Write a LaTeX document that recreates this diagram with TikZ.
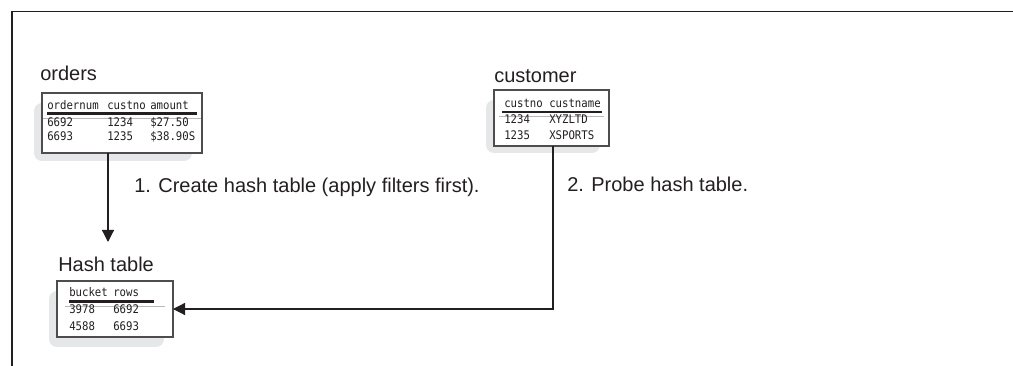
\documentclass[tikz,border=0pt]{standalone}
\usepackage{fontspec}
\setmainfont{Liberation Sans}
\newfontfamily\tabfont[FakeStretch=0.9]{DejaVu Sans Mono}
\usetikzlibrary{arrows.meta,calc}

\definecolor{ink}{HTML}{231F20}
\definecolor{shade}{HTML}{E6E7E8}
\definecolor{rulegray}{HTML}{B8B8B8}

\tikzset{
  frameline/.style={line width=1pt, ink},
  tablebox/.style={draw=ink!80, line width=0.9pt, fill=white, anchor=north west,
                   inner sep=0pt, outer sep=0pt},
  shadowbox/.style={fill=shade, rounded corners=6pt},
  title/.style={font=\fontsize{15}{18}\selectfont, text=ink, anchor=base west, inner sep=0pt},
  cell/.style={font=\tabfont\fontsize{8.9}{10}\selectfont, text=ink, anchor=base west, inner sep=0pt},
  headrule/.style={line width=1.6pt, ink},
  subrule/.style={line width=0.6pt, rulegray},
  link/.style={line width=0.9pt, ink},
  arr/.style={link, -{Triangle[length=9pt, width=9pt]}},
}

\begin{document}
\begin{tikzpicture}[x=0.75pt, y=-0.75pt]
\useasboundingbox (0,0) rectangle (1013,366);

% open frame
\draw[frameline] (12,366) -- (12,11.5) -- (1013,11.5);

% ---- orders table ----
\node[title] (ordersT) at (40,81) {orders};
\fill[shadowbox] (34,103) rectangle (192,161);
\node[tablebox, minimum width=120pt, minimum height=45pt] (orders) at (42,93) {};
\node[cell] (o11) at (47,110) {ordernum};
\node[cell] (o12) at (107,110) {custno};
\node[cell] (o13) at (150,110) {amount};
\draw[subrule] (43,118) -- (201,118);
\draw[headrule] (47,113.5) -- (197,113.5);
\node[cell] (o21) at (47,127) {6692};
\node[cell] (o22) at (107,127) {1234};
\node[cell] (o23) at (150,127) {\$27.50};
\node[cell] (o31) at (47,141) {6693};
\node[cell] (o32) at (107,141) {1235};
\node[cell] (o33) at (150,141) {\$38.90S};

% ---- customer table ----
\node[title] (customerT) at (494,83) {customer};
\fill[shadowbox] (486,100) rectangle (600,153);
\node[tablebox, minimum width=86.25pt, minimum height=42pt] (customer) at (494,90) {};
\node[cell] (c11) at (504,108) {custno};
\node[cell] (c12) at (549,108) {custname};
\draw[subrule] (499,116) -- (604,116);
\draw[headrule] (502,112) -- (602,112);
\node[cell] (c21) at (504,124) {1234};
\node[cell] (c22) at (549,124) {XYZLTD};
\node[cell] (c31) at (504,140) {1235};
\node[cell] (c32) at (549,140) {XSPORTS};

% ---- hash table ----
\node[title] (hashT) at (58,272) {Hash table};
\fill[shadowbox] (49,291) rectangle (164,347);
\node[tablebox, minimum width=87pt, minimum height=42pt] (hash) at (57,281) {};
\node[cell] (h11) at (69,297) {bucket};
\node[cell] (h12) at (113,297) {rows};
\draw[subrule] (65,306) -- (165,306);
\draw[headrule] (69,301.5) -- (154,301.5);
\node[cell] (h21) at (69,314) {3978};
\node[cell] (h22) at (113,314) {6692};
\node[cell] (h31) at (69,330) {4588};
\node[cell] (h32) at (113,330) {6693};

% ---- steps ----
\node[title] (step1) at (134,193) {1. Create hash table (apply filters first).};
\node[title] (step2) at (567,192) {2. Probe hash table.};

% ---- connectors ----
\coordinate (buildtip) at (108,242);
\coordinate (probecorner) at (553,309);
\draw[arr] (orders.south -| buildtip) -- (buildtip);
\draw[arr] (customer.south -| probecorner) -- (probecorner) -- (hash.east);
\end{tikzpicture}
\end{document}
